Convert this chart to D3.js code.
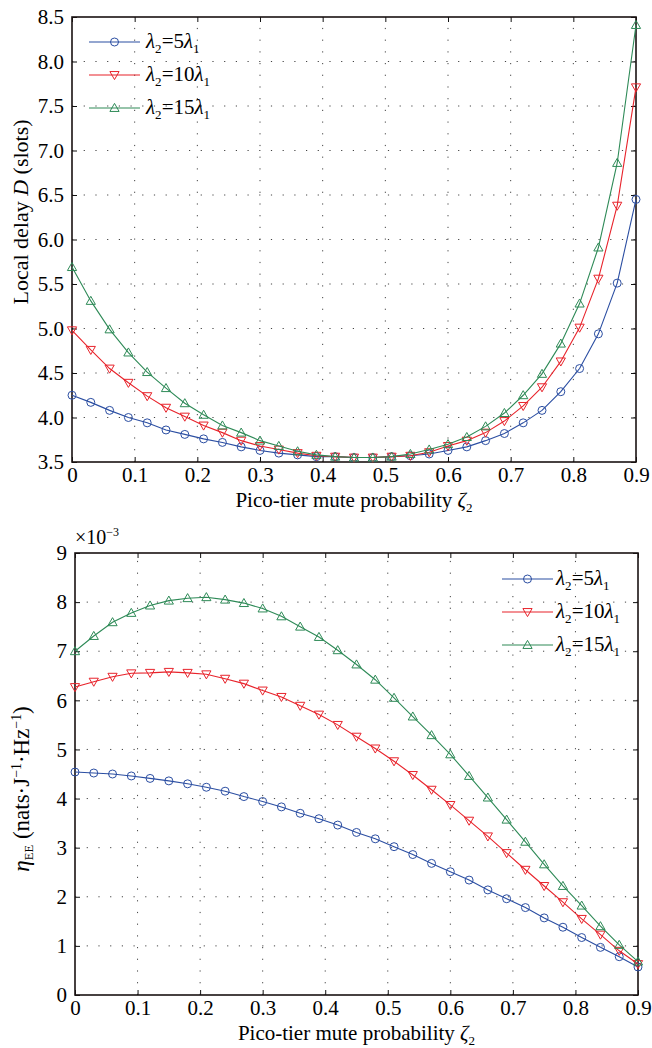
<!DOCTYPE html>
<html><head><meta charset="utf-8">
<script src="https://cdn.jsdelivr.net/npm/d3@7"></script>
<style>
html,body{margin:0;padding:0;background:#fff;}
svg{display:block;}
text{font-family:"Liberation Serif","Times New Roman",serif;fill:#000;}
</style></head>
<body>
<svg id="chart" width="652" height="1048"></svg>
<script>
// ---- data ----
const zeta = [0,0.03,0.06,0.09,0.12,0.15,0.18,0.21,0.24,0.27,0.30,0.33,0.36,0.39,0.42,0.45,0.48,0.51,0.54,0.57,0.60,0.63,0.66,0.69,0.72,0.75,0.78,0.81,0.84,0.87,0.90];
const seriesNames = ["5", "10", "15"];

const delay5  = [4.25,4.17,4.08,4.00,3.94,3.86,3.81,3.76,3.72,3.67,3.63,3.60,3.58,3.56,3.56,3.55,3.55,3.56,3.57,3.59,3.63,3.67,3.74,3.82,3.94,4.08,4.29,4.55,4.94,5.51,6.45];
const delay10 = [4.98,4.76,4.55,4.39,4.24,4.11,4.01,3.91,3.83,3.74,3.68,3.64,3.60,3.57,3.56,3.55,3.55,3.56,3.57,3.61,3.68,3.74,3.83,3.96,4.13,4.34,4.63,5.01,5.56,6.38,7.71];
const delay15 = [5.69,5.31,4.99,4.73,4.51,4.33,4.16,4.03,3.91,3.83,3.74,3.68,3.62,3.58,3.56,3.55,3.55,3.56,3.59,3.64,3.70,3.78,3.90,4.05,4.25,4.49,4.83,5.28,5.91,6.86,8.41];

const ee5  = [4.54,4.52,4.50,4.46,4.41,4.36,4.30,4.23,4.15,4.04,3.94,3.83,3.70,3.59,3.46,3.31,3.18,3.02,2.86,2.68,2.51,2.34,2.14,1.96,1.78,1.57,1.38,1.17,0.97,0.78,0.57];
const ee10 = [6.27,6.38,6.48,6.55,6.56,6.58,6.56,6.53,6.44,6.34,6.20,6.07,5.89,5.71,5.50,5.26,5.02,4.76,4.48,4.18,3.87,3.55,3.23,2.89,2.55,2.22,1.89,1.55,1.23,0.90,0.63];
const ee15 = [7.00,7.31,7.59,7.78,7.93,8.03,8.08,8.10,8.05,7.98,7.87,7.71,7.50,7.29,7.02,6.73,6.42,6.05,5.67,5.29,4.90,4.46,4.02,3.57,3.12,2.66,2.22,1.82,1.40,1.02,0.68];

const xTicks = [0,0.1,0.2,0.3,0.4,0.5,0.6,0.7,0.8,0.9];
const xTickLabels = ["0","0.1","0.2","0.3","0.4","0.5","0.6","0.7","0.8","0.9"];
const yTicksTop = [3.5,4.0,4.5,5.0,5.5,6.0,6.5,7.0,7.5,8.0,8.5];
const yTickLabelsTop = ["3.5","4.0","4.5","5.0","5.5","6.0","6.5","7.0","7.5","8.0","8.5"];
const yTicksBot = [0,1,2,3,4,5,6,7,8,9];
const yTickLabelsBot = ["0","1","2","3","4","5","6","7","8","9"];

// ---- styles ----
const colors = ["#2b4ea2", "#e8232b", "#2e8a57"];
const markers = ["circle", "down", "up"];
const FONT = 21;

const svg = d3.select("#chart");

function marker(g, type, x, y, color) {
  if (type === "circle") {
    g.append("circle").attr("cx", x).attr("cy", y).attr("r", 4)
      .attr("fill", "none").attr("stroke", color).attr("stroke-width", 1);
  } else {
    const s = 4.6;
    const pts = type === "up"
      ? [[x, y - s], [x - s, y + s * 0.75], [x + s, y + s * 0.75]]
      : [[x, y + s], [x - s, y - s * 0.75], [x + s, y - s * 0.75]];
    g.append("polygon").attr("points", pts.map(p => p.join(",")).join(" "))
      .attr("fill", "none").attr("stroke", color).attr("stroke-width", 1);
  }
}

function legendLabel(t, n) {
  t.append("tspan").attr("font-style", "italic").text("λ");
  t.append("tspan").attr("font-size", "0.62em").attr("dy", 5).text("2");
  t.append("tspan").attr("dy", -5).text("=" + n);
  t.append("tspan").attr("font-style", "italic").text("λ");
  t.append("tspan").attr("font-size", "0.62em").attr("dy", 5).text("1");
}

function drawPanel(opt) {
  const {left, right, top, bottom, yDomain, yTicks, yLabels, series, legend} = opt;
  const x = d3.scaleLinear().domain([0, 0.9]).range([left, right]);
  const y = d3.scaleLinear().domain(yDomain).range([bottom, top]);
  const g = svg.append("g");

  // grid
  const grid = g.append("g").attr("stroke", "#444").attr("stroke-width", 1)
    .attr("stroke-dasharray", "1.2,10.5");
  xTicks.slice(1, -1).forEach(v => {
    grid.append("line").attr("x1", x(v)).attr("x2", x(v)).attr("y1", bottom).attr("y2", top);
  });
  yTicks.slice(1, -1).forEach(v => {
    grid.append("line").attr("x1", left).attr("x2", right).attr("y1", y(v)).attr("y2", y(v));
  });

  // axes via d3 axis (ticks inward)
  const tl = 5;
  const axB = g.append("g").attr("transform", `translate(0,${bottom})`)
    .call(d3.axisBottom(x).tickValues(xTicks).tickSize(-tl).tickPadding(5)
      .tickFormat((d, i) => xTickLabels[i]));
  const axT = g.append("g").attr("transform", `translate(0,${top})`)
    .call(d3.axisTop(x).tickValues(xTicks).tickSize(-tl).tickFormat(""));
  const axL = g.append("g").attr("transform", `translate(${left},0)`)
    .call(d3.axisLeft(y).tickValues(yTicks).tickSize(-tl).tickPadding(8)
      .tickFormat((d, i) => yLabels[i]));
  const axR = g.append("g").attr("transform", `translate(${right},0)`)
    .call(d3.axisRight(y).tickValues(yTicks).tickSize(-tl).tickFormat(""));
  [axB, axT, axL, axR].forEach(a => {
    a.select(".domain").remove();
    a.selectAll(".tick line").attr("stroke", "#111").attr("stroke-width", 1);
    a.selectAll("text").attr("font-size", FONT).attr("font-family", "Liberation Serif").attr("fill", "#111");
  });
  g.append("rect").attr("x", left).attr("y", top).attr("width", right - left).attr("height", bottom - top)
    .attr("fill", "none").attr("stroke", "#1a1212").attr("stroke-width", 1.6);

  // series
  const line = d3.line().x((d, i) => x(zeta[i])).y(d => y(d));
  series.forEach((vals, k) => {
    g.append("path").datum(vals).attr("d", line).attr("fill", "none")
      .attr("stroke", colors[k]).attr("stroke-width", 1.1);
    const mg = g.append("g");
    vals.forEach((v, i) => marker(mg, markers[k], x(zeta[i]), y(v), colors[k]));
  });

  // legend
  seriesNames.forEach((n, k) => {
    const ly = legend.y + k * legend.dy;
    g.append("line").attr("x1", legend.x1).attr("x2", legend.x2).attr("y1", ly).attr("y2", ly)
      .attr("stroke", colors[k]).attr("stroke-width", 1.1);
    marker(g, markers[k], (legend.x1 + legend.x2) / 2, ly, colors[k]);
    const t = g.append("text").attr("x", legend.tx).attr("y", ly + 6).attr("font-size", FONT);
    legendLabel(t, n);
  });

  // x label
  const xl = g.append("text").attr("x", (left + right) / 2).attr("y", bottom + 45)
    .attr("text-anchor", "middle").attr("font-size", FONT);
  xl.append("tspan").text("Pico-tier mute probability ");
  xl.append("tspan").attr("font-style", "italic").text("ζ");
  xl.append("tspan").attr("font-size", "0.62em").attr("dy", 5).text("2");
  return {x, y, g};
}

// top panel
drawPanel({
  left: 72, right: 636, top: 17, bottom: 462,
  yDomain: [3.5, 8.5], yTicks: yTicksTop, yLabels: yTickLabelsTop,
  series: [delay5, delay10, delay15],
  legend: {x1: 89, x2: 140, tx: 146, y: 42, dy: 33}
});
const yl1 = svg.append("text").attr("transform", "translate(28,212) rotate(-90)")
  .attr("text-anchor", "middle").attr("font-size", 22);
yl1.append("tspan").text("Local delay ");
yl1.append("tspan").attr("font-style", "italic").text("D");
yl1.append("tspan").text(" (slots)");

// bottom panel
drawPanel({
  left: 75, right: 638, top: 553, bottom: 995,
  yDomain: [0, 9], yTicks: yTicksBot, yLabels: yTickLabelsBot,
  series: [ee5, ee10, ee15],
  legend: {x1: 502, x2: 553, tx: 556, y: 579, dy: 33}
});
const yl2 = svg.append("text").attr("transform", "translate(29,789) rotate(-90)")
  .attr("text-anchor", "middle").attr("font-size", 23);
yl2.append("tspan").attr("font-style", "italic").text("η");
yl2.append("tspan").attr("font-size", "0.55em").attr("dy", 4).text("EE");
yl2.append("tspan").attr("dy", -4).text(" (nats·J");
yl2.append("tspan").attr("font-size", "0.6em").attr("dy", -8).text("−1");
yl2.append("tspan").attr("dy", 8).text("·Hz");
yl2.append("tspan").attr("font-size", "0.6em").attr("dy", -8).text("−1");
yl2.append("tspan").attr("dy", 8).text(")");

const mult = svg.append("text").attr("x", 75).attr("y", 544).attr("font-size", 20);
mult.append("tspan").text("×10");
mult.append("tspan").attr("font-size", "0.6em").attr("dy", -8).text("−3");
</script>
</body></html>
